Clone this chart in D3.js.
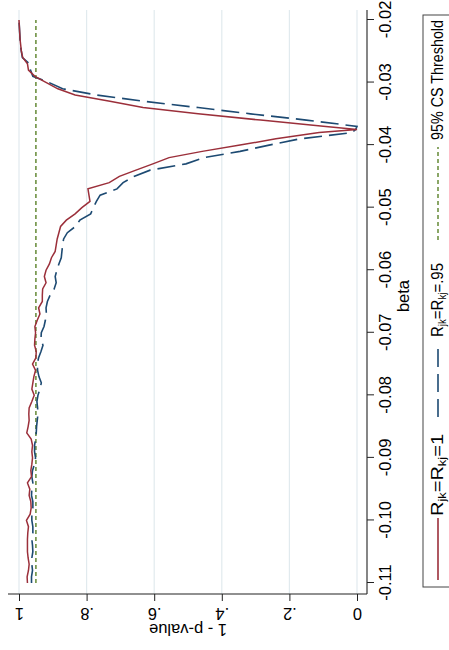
<!DOCTYPE html>
<html>
<head>
<meta charset="utf-8">
<script src="https://cdn.jsdelivr.net/npm/d3@7"></script>
<style>
  html, body { margin: 0; padding: 0; background: #fff; }
  svg { display: block; }
  text { font-family: "Liberation Sans", Arial, sans-serif; fill: #000; }
</style>
</head>
<body>
<svg id="chart" width="449" height="650"></svg>
<script>
// Beta grid of the confidence-set scan
const betaGrid = [
  -0.110, -0.109, -0.108, -0.107, -0.106, -0.105, -0.104, -0.103, -0.102, -0.101,
  -0.100, -0.099, -0.098, -0.097, -0.096, -0.095, -0.094, -0.093, -0.092, -0.091,
  -0.090, -0.089, -0.088, -0.087, -0.086, -0.085, -0.084, -0.083, -0.082, -0.081,
  -0.080, -0.079, -0.078, -0.077, -0.076, -0.075, -0.074, -0.073, -0.072, -0.071,
  -0.070, -0.069, -0.068, -0.067, -0.066, -0.065, -0.064, -0.063, -0.062, -0.061,
  -0.060, -0.059, -0.058, -0.057, -0.056, -0.055, -0.054, -0.053, -0.052, -0.051,
  -0.050, -0.049, -0.048, -0.047, -0.046, -0.045, -0.044, -0.043, -0.042, -0.041,
  -0.040, -0.039, -0.038, -0.0375, -0.037, -0.036, -0.035, -0.034, -0.033, -0.032,
  -0.031, -0.030, -0.029, -0.028, -0.027, -0.026, -0.025, -0.024, -0.023, -0.022,
  -0.021, -0.020
];

// 1 - p-value, R_jk = R_kj = 1
const pvalR1 = [
  0.975, 0.976, 0.972, 0.970, 0.973, 0.975, 0.975, 0.975, 0.974, 0.972,
  0.978, 0.967, 0.964, 0.965, 0.970, 0.968, 0.975, 0.963, 0.965, 0.962,
  0.960, 0.962, 0.960, 0.964, 0.977, 0.973, 0.970, 0.971, 0.970, 0.962,
  0.955, 0.962, 0.959, 0.956, 0.951, 0.960, 0.950, 0.949, 0.954, 0.953,
  0.951, 0.953, 0.946, 0.938, 0.942, 0.931, 0.931, 0.930, 0.920, 0.925,
  0.920, 0.910, 0.904, 0.893, 0.890, 0.887, 0.882, 0.877, 0.860, 0.834,
  0.814, 0.790, 0.793, 0.796, 0.733, 0.703, 0.654, 0.604, 0.556, 0.458,
  0.346, 0.240, 0.112, 0.000, 0.100, 0.285, 0.470, 0.633, 0.731, 0.834,
  0.885, 0.919, 0.953, 0.972, 0.975, 0.989, 0.993, 0.995, 0.997, 0.998,
  0.999, 1.000
];

// 1 - p-value, R_jk = R_kj = .95
const pvalR95 = [
  0.963, 0.963, 0.960, 0.962, 0.962, 0.959, 0.960, 0.962, 0.959, 0.959,
  0.962, 0.962, 0.959, 0.959, 0.963, 0.962, 0.959, 0.962, 0.960, 0.954,
  0.951, 0.954, 0.954, 0.951, 0.949, 0.948, 0.946, 0.944, 0.945, 0.947,
  0.944, 0.938, 0.934, 0.941, 0.945, 0.946, 0.942, 0.935, 0.929, 0.935,
  0.934, 0.926, 0.922, 0.919, 0.920, 0.916, 0.908, 0.896, 0.890, 0.893,
  0.888, 0.882, 0.875, 0.873, 0.871, 0.868, 0.857, 0.833, 0.820, 0.788,
  0.780, 0.771, 0.760, 0.710, 0.692, 0.660, 0.612, 0.506, 0.453, 0.346,
  0.260, 0.169, 0.015, 0.004, 0.000, 0.150, 0.315, 0.470, 0.629, 0.769,
  0.871, 0.911, 0.959, 0.966, 0.969, 0.990, 0.993, 0.996, 0.997, 0.998,
  0.999, 1.000
];

const threshold = 0.95;
const xTicks = [-0.11, -0.10, -0.09, -0.08, -0.07, -0.06, -0.05, -0.04, -0.03, -0.02];
const yTicks = [0, 0.2, 0.4, 0.6, 0.8, 1];
const yTickLabels = ["0", ".2", ".4", ".6", ".8", "1"];
const legendLabels = [
  { base: "R", s1: "jk", mid: "=R", s2: "kj", tail: "=1" },
  { base: "R", s1: "jk", mid: "=R", s2: "kj", tail: "=.95" },
  { text: "95% CS Threshold" }
];

const colRed = "#9b2f3a", colBlue = "#1d4a72", colGreen = "#6e9142";

// The graph is laid out landscape (650 x 449) and turned a quarter turn
// counter-clockwise to stand upright in the 449 x 650 page.
const svg = d3.select("#chart");
const g = svg.append("g").attr("transform", "translate(0,650) rotate(-90)");

const plot = { left: 56, right: 640, top: 8, bottom: 367 };
const x = d3.scaleLinear().domain([-0.11, -0.02]).range([67, 630]);
const y = d3.scaleLinear().domain([0, 1]).range([357, 19]);

// grid
g.append("g").selectAll("line").data(yTicks).join("line")
  .attr("x1", plot.left).attr("x2", plot.right)
  .attr("y1", d => y(d)).attr("y2", d => y(d))
  .attr("stroke", "#e1eaee").attr("stroke-width", 1.2);

// y axis
const yAxis = g.append("g").attr("transform", `translate(${plot.left},0)`)
  .call(d3.axisLeft(y).tickValues(yTicks).tickSize(7)
    .tickFormat((d, i) => yTickLabels[i]));
yAxis.select(".domain").remove();
yAxis.selectAll(".tick line").attr("stroke", "#222");
yAxis.selectAll(".tick text")
  .attr("x", 0).attr("y", 0).attr("dy", 0)
  .attr("text-anchor", "middle")
  .attr("transform", "translate(-14,0) rotate(-90)")
  .style("font-size", "16.5px");
g.append("line").attr("x1", plot.left).attr("x2", plot.left)
  .attr("y1", plot.top).attr("y2", plot.bottom)
  .attr("stroke", "#222").attr("stroke-width", 1.1);

// x axis
const xAxis = g.append("g").attr("transform", `translate(0,${plot.bottom})`)
  .call(d3.axisBottom(x).tickValues(xTicks).tickSize(7)
    .tickFormat(d => d.toFixed(2)));
xAxis.select(".domain").remove();
xAxis.selectAll(".tick line").attr("stroke", "#222");
xAxis.selectAll(".tick text")
  .attr("y", 24).attr("dy", 0)
  .style("font-size", "16.5px");
g.append("line").attr("x1", plot.left).attr("x2", plot.right)
  .attr("y1", plot.bottom).attr("y2", plot.bottom)
  .attr("stroke", "#222").attr("stroke-width", 1.1);

// axis titles
g.append("text").attr("x", 354).attr("y", 409)
  .attr("text-anchor", "middle").style("font-size", "16.5px").text("beta");
g.append("text").attr("transform", `translate(26,${(y(0) + y(1)) / 2}) rotate(-90)`)
  .attr("text-anchor", "middle").style("font-size", "16.5px").text("1 - p-value");

// curves
const line = d3.line().x((d, i) => x(betaGrid[i])).y(d => y(d));
g.append("path").datum([threshold, threshold])
  .attr("d", d3.line().x((d, i) => x(i ? -0.02 : -0.11)).y(d => y(d)))
  .attr("fill", "none").attr("stroke", colGreen).attr("stroke-width", 1.6)
  .attr("stroke-dasharray", "4,3");
g.append("path").datum(pvalR95).attr("d", line)
  .attr("fill", "none").attr("stroke", colBlue).attr("stroke-width", 1.6)
  .attr("stroke-dasharray", "18,7");
g.append("path").datum(pvalR1).attr("d", line)
  .attr("fill", "none").attr("stroke", colRed).attr("stroke-width", 1.5);

// legend
const lg = g.append("g");
lg.append("rect").attr("x", 63).attr("y", 423).attr("width", 572).attr("height", 60)
  .attr("fill", "#fff").attr("stroke", "#444").attr("stroke-width", 1);
const keys = [
  { x1: 70, x2: 132, color: colRed, dash: null, tx: 134, len: 82 },
  { x1: 233, x2: 307, color: colBlue, dash: "18,7", tx: 313, len: 74 },
  { x1: 410, x2: 503, color: colGreen, dash: "4,3", tx: 510, len: 120 }
];
keys.forEach((k, i) => {
  lg.append("line").attr("x1", k.x1).attr("x2", k.x2).attr("y1", 438).attr("y2", 438)
    .attr("stroke", k.color).attr("stroke-width", 1.6)
    .attr("stroke-dasharray", k.dash);
  const t = lg.append("text").attr("x", k.tx).attr("y", 443)
    .attr("textLength", k.len).attr("lengthAdjust", "spacingAndGlyphs")
    .style("font-size", "17px");
  const L = legendLabels[i];
  if (L.text) { t.text(L.text); return; }
  t.append("tspan").text(L.base);
  t.append("tspan").attr("dy", 3).style("font-size", "11px").text(L.s1);
  t.append("tspan").attr("dy", -3).text(L.mid);
  t.append("tspan").attr("dy", 3).style("font-size", "11px").text(L.s2);
  t.append("tspan").attr("dy", -3).text(L.tail);
});
</script>
</body>
</html>
